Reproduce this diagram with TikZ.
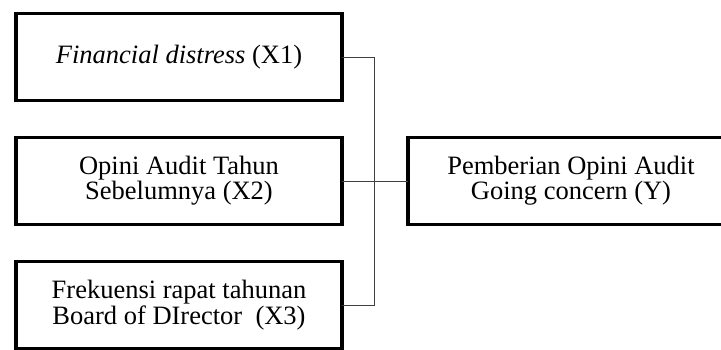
\documentclass[tikz,border=0pt]{standalone}
\usepackage{fontspec}
\setmainfont{Liberation Serif}
\usetikzlibrary{positioning}

\begin{document}
\begin{tikzpicture}[
  box/.style={draw, line width=3.2pt, outer sep=0pt, minimum width=326pt, minimum height=87pt, inner sep=2pt, align=center, font=\fontsize{26.5}{21.5}\selectfont},
  link/.style={draw=black!75, line width=1pt}
]
\useasboundingbox (0,0) rectangle (721pt,-349pt);
\clip (0,0) rectangle (721pt,-349pt);
% 自变量(左列)
\node[box] (x1) at (179pt,-57pt) {\textit{Financial distress} (X1)};
\node[box, below=37pt of x1] (x2) {Opini Audit Tahun\\Sebelumnya (X2)};
\node[box, below=37pt of x2] (x3) {Frekuensi rapat tahunan\\Board of DIrector~~(X3)};
% 因变量(右侧,超出画面)
\node[box, right=66pt of x2] (y) {Pemberian Opini Audit\\Going concern (Y)};
% 连线
\coordinate[right=32.5pt of x2] (jx);
\draw[link] (x1) -| (jx) |- (x3);
\draw[link] (x2) -- (y);
\end{tikzpicture}
\end{document}
